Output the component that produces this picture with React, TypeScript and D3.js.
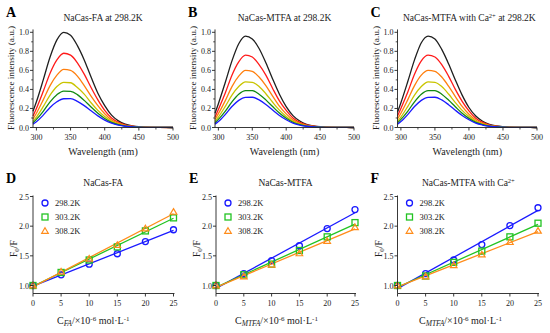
import React from "react";
import * as d3 from "d3";

// ---------- DATA ----------
const wavelengths = [295, 300, 310, 320, 330, 340, 350, 360, 370, 380, 390, 400, 410, 420, 430, 440, 450, 460, 480, 500];
const spectrumColors = ["#1f1f1f", "#ff1a1a", "#ff7f0e", "#c9c400", "#138a13", "#1a1aff"];

const spectraA = [
  [0.17, 0.27, 0.50, 0.74, 0.92, 1.00, 0.97, 0.86, 0.71, 0.53, 0.36, 0.23, 0.13, 0.07, 0.035, 0.017, 0.008, 0.004, 0.001, 0],
  [0.12, 0.20, 0.38, 0.57, 0.71, 0.78, 0.76, 0.68, 0.56, 0.42, 0.29, 0.18, 0.10, 0.055, 0.028, 0.014, 0.007, 0.003, 0.001, 0],
  [0.09, 0.15, 0.29, 0.44, 0.55, 0.61, 0.60, 0.54, 0.44, 0.33, 0.23, 0.145, 0.08, 0.045, 0.022, 0.011, 0.006, 0.003, 0.001, 0],
  [0.065, 0.11, 0.22, 0.34, 0.43, 0.475, 0.47, 0.42, 0.35, 0.26, 0.18, 0.115, 0.065, 0.036, 0.018, 0.009, 0.005, 0.002, 0.001, 0],
  [0.05, 0.085, 0.17, 0.27, 0.345, 0.383, 0.38, 0.345, 0.285, 0.215, 0.15, 0.095, 0.054, 0.03, 0.015, 0.008, 0.004, 0.002, 0.001, 0],
  [0.035, 0.06, 0.13, 0.21, 0.27, 0.302, 0.303, 0.275, 0.23, 0.175, 0.122, 0.078, 0.045, 0.025, 0.013, 0.007, 0.003, 0.002, 0.001, 0],
];
const spectraB = [
  [0.15, 0.25, 0.47, 0.70, 0.88, 0.96, 0.93, 0.83, 0.68, 0.51, 0.35, 0.22, 0.125, 0.068, 0.034, 0.017, 0.008, 0.004, 0.001, 0],
  [0.11, 0.19, 0.36, 0.55, 0.69, 0.76, 0.74, 0.66, 0.55, 0.41, 0.28, 0.18, 0.10, 0.054, 0.027, 0.014, 0.007, 0.003, 0.001, 0],
  [0.085, 0.145, 0.28, 0.43, 0.54, 0.60, 0.59, 0.53, 0.44, 0.33, 0.225, 0.143, 0.08, 0.044, 0.022, 0.011, 0.006, 0.003, 0.001, 0],
  [0.065, 0.11, 0.22, 0.34, 0.43, 0.48, 0.475, 0.43, 0.355, 0.265, 0.182, 0.116, 0.065, 0.036, 0.018, 0.009, 0.005, 0.002, 0.001, 0],
  [0.05, 0.085, 0.17, 0.27, 0.35, 0.388, 0.388, 0.35, 0.29, 0.22, 0.152, 0.097, 0.055, 0.03, 0.015, 0.008, 0.004, 0.002, 0.001, 0],
  [0.035, 0.062, 0.135, 0.22, 0.285, 0.317, 0.318, 0.29, 0.242, 0.183, 0.127, 0.082, 0.047, 0.026, 0.013, 0.007, 0.003, 0.002, 0.001, 0],
];
const spectraC = [
  [0.16, 0.26, 0.48, 0.71, 0.89, 0.96, 0.93, 0.82, 0.67, 0.50, 0.34, 0.21, 0.12, 0.065, 0.033, 0.016, 0.008, 0.004, 0.001, 0],
  [0.12, 0.20, 0.37, 0.56, 0.70, 0.76, 0.74, 0.66, 0.54, 0.40, 0.275, 0.175, 0.098, 0.053, 0.027, 0.013, 0.007, 0.003, 0.001, 0],
  [0.09, 0.15, 0.29, 0.44, 0.55, 0.60, 0.59, 0.53, 0.435, 0.325, 0.222, 0.14, 0.079, 0.043, 0.022, 0.011, 0.006, 0.003, 0.001, 0],
  [0.065, 0.11, 0.22, 0.34, 0.43, 0.48, 0.475, 0.43, 0.352, 0.262, 0.18, 0.115, 0.064, 0.035, 0.018, 0.009, 0.005, 0.002, 0.001, 0],
  [0.05, 0.085, 0.17, 0.27, 0.35, 0.388, 0.388, 0.35, 0.288, 0.218, 0.15, 0.096, 0.054, 0.03, 0.015, 0.008, 0.004, 0.002, 0.001, 0],
  [0.035, 0.062, 0.135, 0.22, 0.285, 0.317, 0.318, 0.29, 0.24, 0.181, 0.126, 0.081, 0.046, 0.026, 0.013, 0.007, 0.003, 0.002, 0.001, 0],
];

const concentrations = [0, 5, 10, 15, 20, 25];
const temperatures = ["298.2K", "303.2K", "308.2K"];
const sternColors = ["#1a1aff", "#22c322", "#ff8c1a"];
const sternD = [
  [1.0, 1.18, 1.36, 1.535, 1.74, 1.94],
  [1.0, 1.22, 1.43, 1.65, 1.92, 2.14],
  [1.0, 1.23, 1.45, 1.68, 1.96, 2.24],
];
const sternE = [
  [1.0, 1.20, 1.42, 1.67, 1.96, 2.28],
  [1.0, 1.18, 1.36, 1.59, 1.82, 2.06],
  [1.0, 1.15, 1.35, 1.54, 1.75, 1.98],
];
const sternF = [
  [1.0, 1.20, 1.43, 1.69, 2.01, 2.31],
  [1.0, 1.16, 1.39, 1.58, 1.82, 2.05],
  [1.0, 1.15, 1.34, 1.52, 1.73, 1.92],
];

const specXTicks = [300, 350, 400, 450, 500];
const specXMinor = [325, 375, 425, 475];
const specYTicks = [0, 0.2, 0.4, 0.6, 0.8, 1.0];
const specYMinor = [0.1, 0.3, 0.5, 0.7, 0.9];
const sternXTicks = [0, 5, 10, 15, 20, 25];
const sternYTicks = [1.0, 1.5, 2.0, 2.5];

const FONT = "'Liberation Serif', 'Times New Roman', serif";
const TXT = "#222";

function SpectrumPanel({ x0, x1, letter, title, titleStart, data }: any) {
  const yTop = 32.3, yBot = 127.5;
  const xs = d3.scaleLinear().domain([295, 500]).range([x0, x1]);
  const ys = d3.scaleLinear().domain([0, 1]).range([yBot, yTop]);
  const line = d3.line<number>().x((_, i) => xs(wavelengths[i])).y((d) => ys(d)).curve(d3.curveMonotoneX);
  const cx = (x0 + x1) / 2;
  return (
    <g fill={TXT}>
      <text x={x0 - 27} y={17} fontSize={14} fontWeight="bold" fontFamily={FONT} fill="#000">{letter}</text>
      {titleStart == null ? (
        <text x={cx} y={21} fontSize={9.5} textAnchor="middle" fontFamily={FONT}>{title}</text>
      ) : (
        <text x={titleStart} y={21} fontSize={9.5} fontFamily={FONT}>{title}</text>
      )}
      {data.map((s: number[], i: number) => (
        <path key={i} d={line(s) || ""} fill="none" stroke={spectrumColors[i]} strokeWidth={1.3} />
      ))}
      <line x1={x0} x2={x0} y1={yBot} y2={ys(1.03)} stroke="#222" strokeWidth={0.9} />
      <line x1={x0} x2={x1} y1={yBot} y2={yBot} stroke="#222" strokeWidth={0.9} />
      {specYTicks.map((t) => (
        <g key={t}>
          <line x1={x0 - 3} x2={x0} y1={ys(t)} y2={ys(t)} stroke="#222" strokeWidth={0.9} />
          <text x={x0 - 4} y={ys(t) + 3} fontSize={8} textAnchor="end" fontFamily={FONT}>{t.toFixed(1)}</text>
        </g>
      ))}
      {specYMinor.map((t) => (
        <line key={t} x1={x0 - 1.8} x2={x0} y1={ys(t)} y2={ys(t)} stroke="#222" strokeWidth={0.8} />
      ))}
      {specXTicks.map((t) => (
        <g key={t}>
          <line x1={xs(t)} x2={xs(t)} y1={yBot} y2={yBot + 3} stroke="#222" strokeWidth={0.9} />
          <text x={xs(t)} y={yBot + 12} fontSize={8} textAnchor="middle" fontFamily={FONT}>{t}</text>
        </g>
      ))}
      {specXMinor.map((t) => (
        <line key={t} x1={xs(t)} x2={xs(t)} y1={yBot} y2={yBot + 2} stroke="#222" strokeWidth={0.8} />
      ))}
      <text x={cx} y={155} fontSize={10} textAnchor="middle" fontFamily={FONT}>Wavelength (nm)</text>
      <text transform={`translate(${x0 - 19},${(yTop + yBot) / 2 - 2}) rotate(-90)`} fontSize={9.2} textAnchor="middle" fontFamily={FONT}>
        Fluorescence intensity (a.u.)
      </text>
    </g>
  );
}

function Marker({ kind, x, y, color }: any) {
  if (kind === 0) return <circle cx={x} cy={y} r={3} fill="none" stroke={color} strokeWidth={1.3} />;
  if (kind === 1) return <rect x={x - 3} y={y - 3} width={6} height={6} fill="none" stroke={color} strokeWidth={1.3} />;
  const h = 3.3;
  return <path d={`M${x},${y - h}L${x + h},${y + h * 0.7}L${x - h},${y + h * 0.7}Z`} fill="none" stroke={color} strokeWidth={1.2} />;
}

function fit(xs: number[], ys: number[]) {
  const mx = d3.mean(xs)!, my = d3.mean(ys)!;
  let num = 0, den = 0;
  xs.forEach((x, i) => { num += (x - mx) * (ys[i] - my); den += (x - mx) ** 2; });
  const b = num / den;
  return { a: my - b * mx, b };
}

function SternPanel({ x0, x1, letter, title, titleStart, data, sub, labelStart }: any) {
  const yTop = 196.5, yOne = 285.5, yAxis = 293.5;
  const xs = d3.scaleLinear().domain([0, 25]).range([x0, x1]);
  const ys = d3.scaleLinear().domain([1, 2.5]).range([yOne, yTop]);
  const cx = (x0 + x1) / 2;
  return (
    <g fill={TXT}>
      <text x={x0 - 27} y={183} fontSize={14} fontWeight="bold" fontFamily={FONT} fill="#000">{letter}</text>
      {titleStart == null ? (
        <text x={cx} y={186} fontSize={9.5} textAnchor="middle" fontFamily={FONT}>{title}</text>
      ) : (
        <text x={titleStart} y={186} fontSize={9.5} fontFamily={FONT}>{title}</text>
      )}
      {data.map((s: number[], i: number) => {
        const f = fit(concentrations, s);
        return (
          <line key={"l" + i} x1={xs(0)} x2={xs(25)} y1={ys(f.a)} y2={ys(f.a + f.b * 25)} stroke={sternColors[i]} strokeWidth={1.3} />
        );
      })}
      {data.map((s: number[], i: number) =>
        s.map((v, j) => <Marker key={i + "-" + j} kind={i} x={xs(concentrations[j])} y={ys(v)} color={sternColors[i]} />)
      )}
      <line x1={x0} x2={x0} y1={yAxis} y2={yTop - 1} stroke="#222" strokeWidth={0.9} />
      <line x1={x0} x2={x1 + 1} y1={yAxis} y2={yAxis} stroke="#222" strokeWidth={0.9} />
      {sternYTicks.map((t) => (
        <g key={t}>
          <line x1={x0 - 3} x2={x0} y1={ys(t)} y2={ys(t)} stroke="#222" strokeWidth={0.9} />
          <text x={x0 - 4} y={ys(t) + 3} fontSize={8} textAnchor="end" fontFamily={FONT}>{t.toFixed(1)}</text>
        </g>
      ))}
      {sternXTicks.map((t) => (
        <g key={t}>
          <line x1={xs(t)} x2={xs(t)} y1={yAxis} y2={yAxis + 3} stroke="#222" strokeWidth={0.9} />
          <text x={xs(t)} y={yAxis + 12} fontSize={8} textAnchor="middle" fontFamily={FONT}>{t}</text>
        </g>
      ))}
      {temperatures.map((t, i) => (
        <g key={t}>
          <Marker kind={i} x={x0 + 12} y={203 + i * 14} color={sternColors[i]} />
          <text x={x0 + 22} y={206 + i * 14} fontSize={8.5} fontFamily={FONT}>{t}</text>
        </g>
      ))}
      <text x={labelStart} y={324} fontSize={10} fontFamily={FONT}>
        C<tspan fontSize={7.5} fontStyle="italic" dy={2}>{sub}</tspan>
        <tspan dy={-2}>/×10</tspan>
        <tspan fontSize={7} dy={-3.5}>-6</tspan>
        <tspan dy={3.5}> mol·L</tspan>
        <tspan fontSize={7} dy={-3.5}>-1</tspan>
      </text>
      <text x={x0 - 16} y={(yTop + yAxis) / 2 + 4} transform={`rotate(-90 ${x0 - 16} ${(yTop + yAxis) / 2 + 4})`} fontSize={9.5} fontFamily={FONT} dx={-8}>
        F<tspan fontSize={7} dy={2}>0</tspan><tspan dy={-2}>/F</tspan>
      </text>
    </g>
  );
}

export default function App() {
  return (
    <svg width={550} height={333} style={{ position: "absolute", left: 0, top: 0, background: "#fff" }}>
      <rect width={550} height={333} fill="#fff" />
      <SpectrumPanel x0={33} x1={173} letter="A" title="NaCas-FA at 298.2K" data={spectraA} />
      <SpectrumPanel x0={215} x1={354} letter="B" title="NaCas-MTFA at 298.2K" data={spectraB} />
      <SpectrumPanel
        x0={397.5}
        x1={537}
        letter="C"
        titleStart={403}
        title={<>NaCas-MTFA with Ca<tspan fontSize={6.5} dy={-3.5}>2+</tspan><tspan dy={3.5}> at 298.2K</tspan></>}
        data={spectraC}
      />
      <SternPanel x0={33} x1={173.5} letter="D" title="NaCas-FA" data={sternD} sub="FA" labelStart={57} />
      <SternPanel x0={216} x1={355} letter="E" title="NaCas-MTFA" data={sternE} sub="MTFA" labelStart={235} />
      <SternPanel
        x0={397.5}
        x1={538}
        letter="F"
        titleStart={422}
        title={<>NaCas-MTFA with Ca<tspan fontSize={6.5} dy={-3.5}>2+</tspan></>}
        data={sternF}
        sub="MTFA"
        labelStart={419}
      />
    </svg>
  );
}
